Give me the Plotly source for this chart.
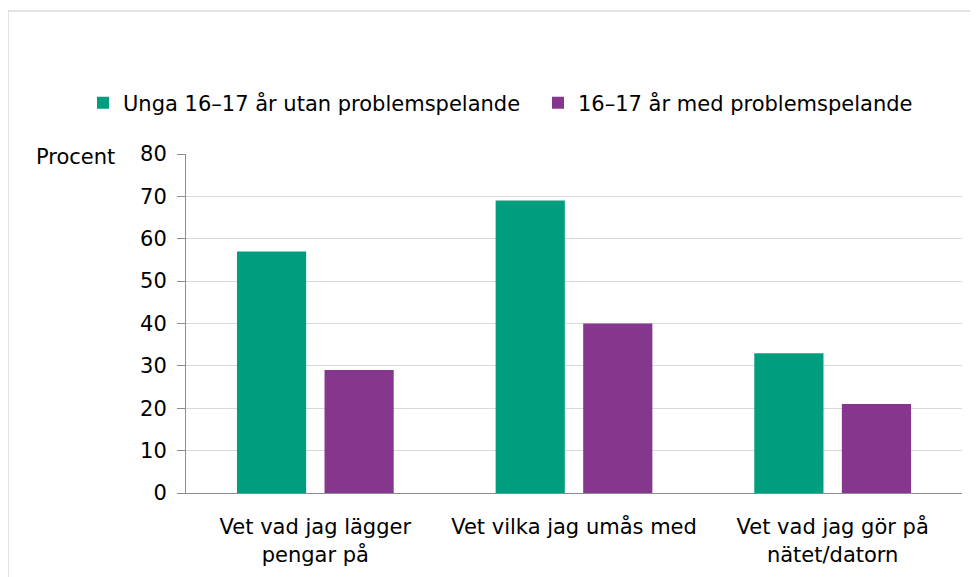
import plotly.graph_objects as go

categories = ["Vet vad jag lägger<br>pengar på", "Vet vilka jag umås med", "Vet vad jag gör på<br>nätet/datorn"]
series_names = ["Unga 16–17 år utan problemspelande", "16–17 år med problemspelande"]
values_without = [57, 69, 33]
values_with = [29, 40, 21]
y_ticks = [0, 10, 20, 30, 40, 50, 60, 70, 80]

colors = ["#009E7F", "#84378C"]
FONT = "DejaVu Sans"
FS = 21

fig = go.Figure()
for name, vals, col in zip(series_names, [values_without, values_with], colors):
    fig.add_trace(go.Bar(x=categories, y=vals, name=name, marker_color=col,
                         marker_line_width=0))

# page body adds an 8px offset; positions below are in screenshot pixels
OFF = 8
W, H = 978, 577
L, R, T, B = 186 - OFF, W - (962 - OFF), 154 - OFF, H - (493 - OFF)
pw, ph = W - L - R, H - T - B

def px(x):
    return (x - OFF - L) / pw

def py(y):
    return (H - B - (y - OFF)) / ph

fig.update_layout(
    width=W, height=H,
    margin=dict(l=L, r=R, t=T, b=B, autoexpand=False),
    paper_bgcolor="white", plot_bgcolor="white",
    font=dict(family=FONT, size=FS, color="#000000"),
    barmode="group", bargap=0.323, bargroupgap=0.21,
    showlegend=True,
    legend=dict(orientation="h", x=px(83), y=py(103),
                xanchor="left", yanchor="middle", entrywidth=410, entrywidthmode="pixels",
                font=dict(size=FS, family=FONT), traceorder="normal", itemwidth=30),
    xaxis=dict(showline=True, linecolor="#8c8c8c", linewidth=1, ticks="",
               tickfont=dict(size=FS, family=FONT), showgrid=False, ticklabelstandoff=15),
    yaxis=dict(range=[0, 80], tickvals=y_ticks, showline=True, linecolor="#8c8c8c",
               linewidth=1, ticks="outside", ticklen=8, tickcolor="#8c8c8c",
               gridcolor="#d9d9d9", gridwidth=1, tickfont=dict(size=FS, family=FONT),
               zeroline=False, ticklabelstandoff=6),
    annotations=[dict(text="Procent", xref="paper", yref="paper", x=px(117), y=py(157),
                      xanchor="right", yanchor="middle", showarrow=False,
                      font=dict(size=FS, family=FONT))],
    shapes=[dict(type="rect", xref="paper", yref="paper", x0=px(8), y0=py(600),
                 x1=px(1000), y1=py(11), line=dict(color="#c8c8c8", width=1),
                 fillcolor="rgba(0,0,0,0)", layer="below")],
)

fig.write_html("out.html")
